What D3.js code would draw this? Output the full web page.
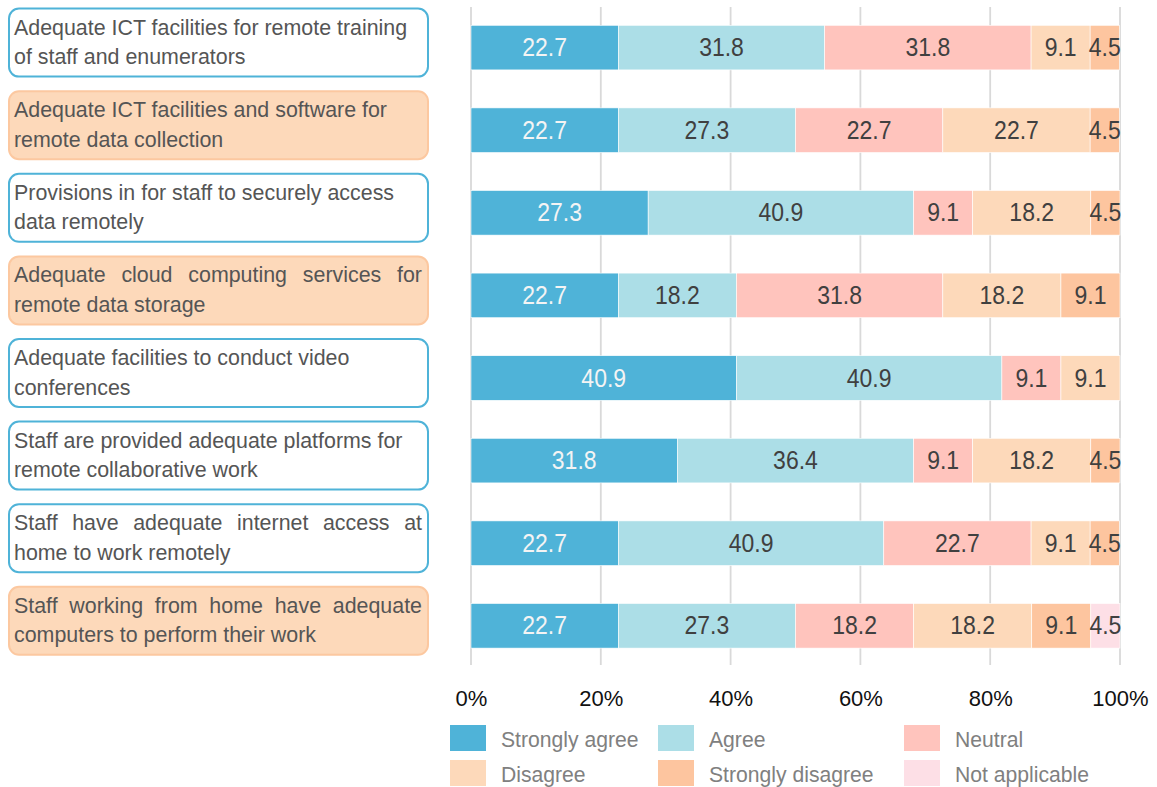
<!DOCTYPE html>
<html>
<head>
<meta charset="utf-8">
<script src="https://cdn.jsdelivr.net/npm/d3@7"></script>
<style>
  body { margin: 0; background: #fff; }
  text { font-family: "Liberation Sans", Arial, sans-serif; }
</style>
</head>
<body>
<div id="chart-area"></div>
<script>

// data
const questions = [
    "Adequate ICT facilities for remote training\nof staff and enumerators",
    "Adequate ICT facilities and software for\nremote data collection",
    "Provisions in for staff to securely access\ndata remotely",
    "Adequate cloud computing services for\nremote data storage",
    "Adequate facilities to conduct video\nconferences",
    "Staff are provided adequate platforms for\nremote collaborative work",
    "Staff have adequate internet access at\nhome to work remotely",
    "Staff working from home have adequate\ncomputers to perform their work"
];
const categories = ["Strongly agree", "Agree", "Neutral", "Disagree", "Strongly disagree", "Not applicable"];
const stronglyAgree    = [22.7, 22.7, 27.3, 22.7, 40.9, 31.8, 22.7, 22.7];
const agree            = [31.8, 27.3, 40.9, 18.2, 40.9, 36.4, 40.9, 27.3];
const neutral          = [31.8, 22.7,  9.1, 31.8,  9.1,  9.1, 22.7, 18.2];
const disagree         = [ 9.1, 22.7, 18.2, 18.2,  9.1, 18.2,  9.1, 18.2];
const stronglyDisagree = [ 4.5,  4.5,  4.5,  9.1,  0,    4.5,  4.5,  9.1];
const notApplicable    = [ 0,    0,    0,    0,    0,    0,    0,    4.5];
const tickValues = [0, 20, 40, 60, 80, 100];

// style
const colors = ["#4fb3d8", "#acdee7", "#ffc4bd", "#fdd9ba", "#fdc59f", "#fddfe6"];
const boxStyle = [
    { fill: "#ffffff", stroke: "#4fb3d8" },
    { fill: "#fdd9ba", stroke: "#fcc8a0" }
];
const boxKind   = [0, 1, 0, 1, 0, 0, 0, 1];
const justified = [false, false, false, true, false, false, true, true];

const svgWidth = 1157, svgHeight = 787;

var svg = d3.select("#chart-area").append("svg")
    .attr("width", svgWidth)
    .attr("height", svgHeight);

// build rows for the stack
var series = [stronglyAgree, agree, neutral, disagree, stronglyDisagree, notApplicable];
var rows = questions.map(function(q, i){
    var r = { question: q };
    categories.forEach(function(c, j){ r[c] = series[j][i]; });
    return r;
});

var stack = d3.stack().keys(categories);
var stacked = stack(rows);

// scales
var xScale = d3.scaleLinear().domain([0, 100]).range([471, 1120]);
var step = 82.6, pad = 0.46, firstTop = 25.3;
var yStart = firstTop - pad/2*step;
var yScale = d3.scaleBand()
    .domain(questions)
    .range([yStart, yStart + step*questions.length])
    .paddingInner(pad)
    .paddingOuter(pad/2);

var color = d3.scaleOrdinal().domain(categories).range(colors);

// grid lines
svg.append("g")
    .attr("class", "grid")
    .selectAll("line")
    .data(tickValues)
    .enter().append("line")
    .attr("x1", function(d){ return xScale(d); })
    .attr("x2", function(d){ return xScale(d); })
    .attr("y1", 7)
    .attr("y2", 665)
    .attr("stroke", "#d9d9d9")
    .attr("stroke-width", 1.8);

// x axis (labels only)
var xAxisCall = d3.axisBottom(xScale)
    .tickValues(tickValues)
    .tickFormat(function(d){ return d + "%"; })
    .tickSize(0)
    .tickPadding(0);
var xAxis = svg.append("g")
    .attr("class", "x-axis")
    .attr("transform", "translate(0,690)")
    .call(xAxisCall);
xAxis.select(".domain").remove();
xAxis.selectAll("text")
    .attr("font-size", "22px")
    .attr("font-family", "Liberation Sans, Arial, sans-serif")
    .attr("fill", "#111");

// bars
var layers = svg.append("g").attr("class", "bars")
    .selectAll("g")
    .data(stacked)
    .enter().append("g")
    .attr("fill", function(d){ return color(d.key); });

layers.selectAll("rect")
    .data(function(d){ return d; })
    .enter().append("rect")
    .filter(function(d){ return d[1] - d[0] > 0; })
    .attr("x", function(d){ return xScale(d[0]); })
    .attr("y", function(d){ return yScale(d.data.question); })
    .attr("width", function(d){ return xScale(d[1]) - xScale(d[0]); })
    .attr("height", yScale.bandwidth())
    .attr("stroke", "#ffffff")
    .attr("stroke-width", 0.6);

// bar value labels
layers.selectAll("text")
    .data(function(d){ return d.map(function(p){ p.key = d.key; return p; }); })
    .enter().append("text")
    .filter(function(d){ return d[1] - d[0] > 0; })
    .attr("transform", function(d){
        var cx = xScale((d[0] + d[1]) / 2);
        var cy = yScale(d.data.question) + yScale.bandwidth()/2 + 8.5;
        return "translate(" + cx + "," + cy + ") scale(0.92,1)";
    })
    .attr("text-anchor", "middle")
    .attr("font-size", "25px")
    .attr("fill", function(d){ return d.key === "Strongly agree" ? "#f4f4f4" : "#404040"; })
    .text(function(d){ return (d[1] - d[0]).toFixed(1); });

// category boxes on the left
var boxH = 68;
var boxes = svg.append("g").attr("class", "labels")
    .selectAll("g")
    .data(questions)
    .enter().append("g")
    .attr("transform", function(d){
        return "translate(9," + (yScale(d) + yScale.bandwidth()/2 - 5 - boxH/2) + ")";
    });

boxes.append("rect")
    .attr("width", 419)
    .attr("height", boxH)
    .attr("rx", 10)
    .attr("ry", 10)
    .attr("fill", function(d, i){ return boxStyle[boxKind[i]].fill; })
    .attr("stroke", function(d, i){ return boxStyle[boxKind[i]].stroke; })
    .attr("stroke-width", 2);

boxes.each(function(d, i){
    var lines = d.split("\n");
    var gBox = d3.select(this);
    lines.forEach(function(line, k){
        var t = gBox.append("text")
            .attr("x", 5)
            .attr("y", boxH/2 - 8 + k*29.5)
            .attr("font-size", "21.4px")
            .attr("fill", "#555555")
            .text(line);
        if (justified[i] && k === 0){
            var natural = t.node().getComputedTextLength();
            var gaps = line.split(" ").length - 1;
            var target = 408;
            if (gaps > 0 && natural < target)
                t.attr("word-spacing", ((target - natural) / gaps) + "px");
        }
    });
});

// legend
var legendCols = [450, 658, 904];
var legendRows = [725, 760];
var legend = svg.append("g").attr("class", "legend")
    .selectAll("g")
    .data(categories)
    .enter().append("g")
    .attr("transform", function(d, i){
        return "translate(" + legendCols[i % 3] + "," + legendRows[Math.floor(i / 3)] + ")";
    });

legend.append("rect")
    .attr("width", 36)
    .attr("height", 26)
    .attr("fill", function(d){ return color(d); });

legend.append("text")
    .attr("transform", "translate(51,21.5) scale(0.94,1)")
    .attr("font-size", "22.5px")
    .attr("fill", "#808080")
    .text(function(d){ return d; });

</script>
</body>
</html>
